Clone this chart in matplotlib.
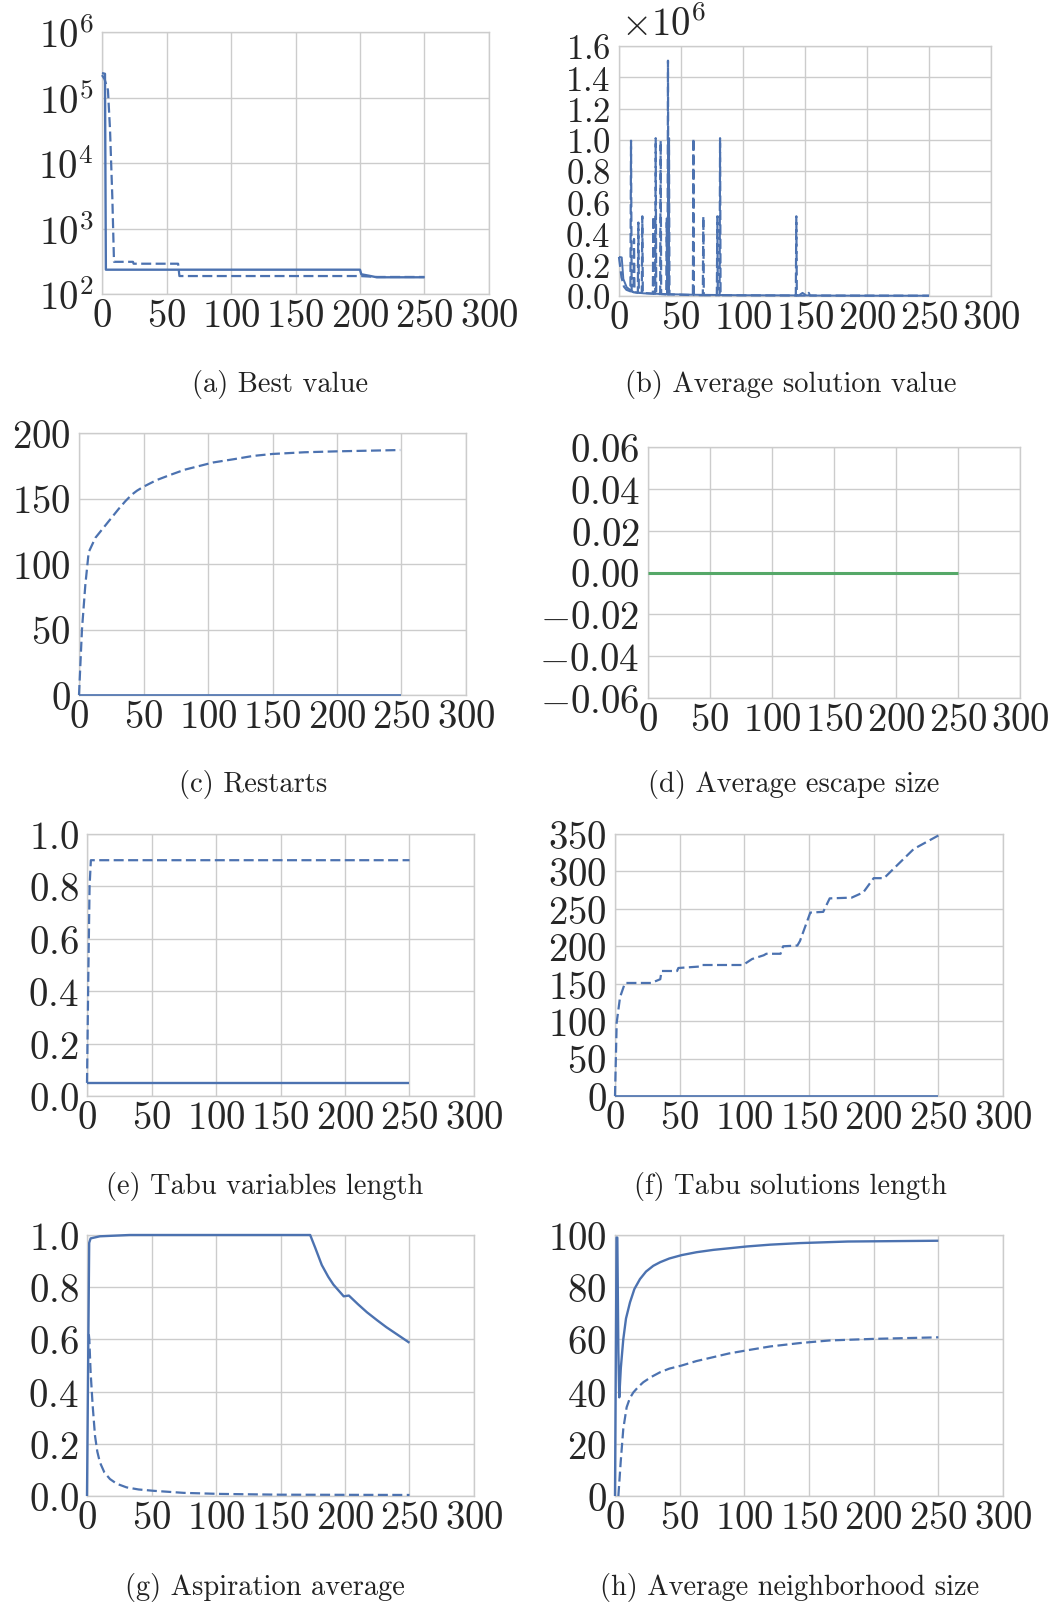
import math
import matplotlib
matplotlib.use("Agg")
import matplotlib.pyplot as plt
from matplotlib.ticker import FuncFormatter, NullLocator

plt.rcParams["font.family"] = "cmr10"
plt.rcParams["mathtext.fontset"] = "cm"
plt.rcParams["axes.formatter.use_mathtext"] = True

BLUE = "#4C72B0"
GREEN = "#55A868"
GRID = "#cccccc"

x_ticks = [0, 50, 100, 150, 200, 250, 300]

# (a) Best value (log scale)
best_solid_x = [0, 2.3, 3, 200, 201, 207, 213, 250]
best_solid_y = [236000, 230000, 235, 235, 200, 190, 180, 180]
best_dash_x = [0, 2, 4.6, 6.2, 8, 9.3, 24, 24.5, 59, 60, 200, 213, 250]
best_dash_y = [220000, 190000, 130000, 33000, 3000, 310, 310, 290, 290, 188, 188, 182, 182]

# (b) Average solution value
avg_solid_x = [0, 2.2, 3.5, 6.2, 11.6, 20, 38, 60, 100, 145, 148, 151, 160, 200, 250]
avg_solid_y = [0.25e6, 0.247e6, 0.109e6, 0.056e6, 0.024e6, 0.017e6, 0.012e6, 0.008e6,
               0.005e6, 0.004e6, 0.02e6, 0.004e6, 0.003e6, 0.002e6, 0.002e6]
avg_dash_x = [0, 2, 4, 6, 9.2, 9.7, 10.2, 11.7, 12.1, 12.5, 15.2, 15.6, 16.0, 18.4, 18.8, 19.2,
              27.3, 27.7, 28.1, 29.2, 29.6, 30.0, 33.2, 33.6, 34.0,
              38.1, 38.5, 38.9, 39.1, 39.5, 39.9, 40.0, 40.3, 40.7,
              59.6, 60, 60.4, 67.6, 68, 68.4, 78.9, 79.3, 79.7, 81.1, 81.5, 81.9,
              142.6, 143, 143.4, 152, 153, 154, 250]
avg_dash_y = [0.25e6, 0.12e6, 0.06e6, 0.04e6, 0.03e6, 0.994e6, 0.03e6, 0.025e6, 0.365e6, 0.025e6,
              0.02e6, 0.47e6, 0.02e6, 0.02e6, 0.51e6, 0.02e6,
              0.015e6, 0.51e6, 0.015e6, 0.015e6, 1.01e6, 0.015e6, 0.012e6, 0.994e6, 0.012e6,
              0.01e6, 0.5e6, 0.01e6, 0.01e6, 1.506e6, 0.01e6, 0.01e6, 1.01e6, 0.01e6,
              0.006e6, 1.01e6, 0.006e6, 0.005e6, 0.51e6, 0.005e6, 0.005e6, 0.51e6, 0.005e6,
              0.005e6, 1.01e6, 0.005e6,
              0.003e6, 0.51e6, 0.003e6, 0.003e6, 0.02e6, 0.003e6, 0.002e6]

# (c) Restarts
rest_solid_x = [0, 250]
rest_solid_y = [0, 0]
rest_dash_x = [0, 2.3, 4.9, 7.5, 12.7, 21.7, 30.7, 36, 41, 45, 50, 60, 70.7, 82, 94, 104,
               120, 135, 150, 175, 200, 249]
rest_dash_y = [0, 50, 84, 109, 120, 131, 142, 148, 153, 156, 159, 164, 168, 172, 175, 177.5,
               180, 182.5, 184, 185.3, 186, 187]

# (d) Average escape size
esc_x = [0, 250]
esc_y = [0, 0]

# (e) Tabu variables length
tvar_solid_x = [0, 250]
tvar_solid_y = [0.048, 0.048]
tvar_dash_x = [0, 1, 2, 3, 250]
tvar_dash_y = [0.05, 0.45, 0.8, 0.9, 0.9]

# (f) Tabu solutions length
tsol_solid_x = [0, 250]
tsol_solid_y = [0, 0]
tsol_dash_x = [0, 1.3, 3.9, 7.7, 28, 35, 36, 48, 49, 66, 67, 99, 106, 115, 117, 128, 130,
               141, 143, 151, 161, 166, 183, 192, 200, 208, 218, 231, 250]
tsol_dash_y = [0, 98, 132, 151, 151, 156, 167, 167, 171, 173, 175, 175, 183, 188, 190, 190,
               200, 201, 207, 245, 246, 264, 265, 272, 291, 291, 308, 330, 348]

# (g) Aspiration average
asp_solid_x = [0, 1.7, 2.8, 10, 33, 173, 177, 182, 187, 191, 199, 203, 210, 217, 225, 232, 241, 250]
asp_solid_y = [0.0, 0.97, 0.987, 0.995, 1.0, 1.0, 0.95, 0.885, 0.84, 0.81, 0.765, 0.768,
               0.735, 0.704, 0.673, 0.647, 0.617, 0.587]
asp_dash_x = [1.4, 1.8, 2.8, 4.4, 6.2, 8, 10, 13.5, 17.8, 23, 30.7, 40, 51.4, 75, 103, 150, 250]
asp_dash_y = [0.62, 0.6, 0.474, 0.346, 0.231, 0.17, 0.129, 0.09, 0.065, 0.047, 0.033, 0.025,
              0.02, 0.012, 0.008, 0.005, 0.004]

# (h) Average neighborhood size
nbh_solid_x = [0, 1.2, 1.8, 2.6, 3.3, 4.5, 6.4, 8.5, 11.6, 15, 19.3, 24, 29.6, 35, 42, 51.6,
               63, 76, 90, 101.8, 120, 143, 180, 250]
nbh_solid_y = [0, 99, 99, 55, 37.8, 49, 60, 68, 74.2, 79.3, 83.1, 86, 88.2, 89.6, 91, 92.3,
               93.4, 94.3, 95, 95.6, 96.3, 96.9, 97.5, 97.8]
nbh_dash_x = [2.6, 4.4, 6.4, 9, 11.5, 14.2, 18, 21.9, 28, 34.8, 42, 51.6, 63, 76, 88, 101.8,
              120, 143, 166, 200, 250]
nbh_dash_y = [0, 13, 25.7, 34, 37.5, 39.7, 41.8, 43.6, 45.6, 47.4, 48.8, 50, 51.7, 53.2, 54.6,
              55.8, 57.3, 58.6, 59.6, 60.2, 60.8]

W, H = 1060, 1606
fig = plt.figure(figsize=(W / 100, H / 100), dpi=100)
fig.patch.set_facecolor("white")


def make_axes(left, right, top, bottom):
    ax = fig.add_axes([left / W, 1 - bottom / H, (right - left) / W, (bottom - top) / H])
    ax.set_facecolor("white")
    for s in ax.spines.values():
        s.set_color(GRID)
        s.set_linewidth(1.0)
    ax.grid(True, color=GRID, linewidth=1.0)
    ax.set_axisbelow(True)
    ax.tick_params(length=0, labelsize=28, colors="#262626")
    ax.tick_params(axis="x", pad=3)
    ax.tick_params(axis="y", pad=6)
    ax.set_xlim(0, 300)
    ax.set_xticks(x_ticks)
    ax.xaxis.set_major_formatter(FuncFormatter(lambda v, p: f"${v:g}$"))
    return ax


def fmt(nd, scale=1.0):
    def f(v, p):
        v = v / scale
        if abs(v) < 1e-12:
            v = 0.0
        return f"${v:.{nd}f}$"
    return FuncFormatter(f)


def solid(ax, x, y, color=BLUE, lw=1.7):
    ax.plot(x, y, color=color, linewidth=lw, solid_capstyle="butt", zorder=3, clip_on=False)


def dashed(ax, x, y):
    ax.plot(x, y, color=BLUE, linewidth=1.6, linestyle=(0, (4.5, 2)), zorder=3, clip_on=False)


def caption(cx, cy, text):
    fig.text(cx / W, 1 - cy / H, text, ha="center", va="center", fontsize=20.5,
             family="cmr10", color="#222222")


# (a)
ax = make_axes(102, 489, 33, 295)
ax.set_yscale("log")
ax.set_ylim(1e2, 1e6)
ax.set_yticks([1e2, 1e3, 1e4, 1e5, 1e6])
ax.yaxis.set_minor_locator(NullLocator())
ax.yaxis.set_major_formatter(FuncFormatter(lambda v, p: f"$10^{{{int(round(math.log10(v)))}}}$"))
solid(ax, best_solid_x, best_solid_y)
dashed(ax, best_dash_x, best_dash_y)
caption(280, 385, "(a) Best value")

# (b)
ax = make_axes(619, 991, 47, 297)
ax.set_ylim(0, 1.6e6)
ax.set_yticks([i * 0.2e6 for i in range(9)])
ax.yaxis.set_major_formatter(fmt(1, 1e6))
ax.tick_params(axis="y", labelsize=25)
solid(ax, avg_solid_x, avg_solid_y, lw=1.4)
dashed(ax, avg_dash_x, avg_dash_y)
fig.text(621 / W, 1 - 6 / H, r"$\times10^{6}$", ha="left", va="top", fontsize=28, color="#262626")
caption(791, 385, "(b) Average solution value")

# (c)
ax = make_axes(79, 466, 434, 696)
ax.set_ylim(0, 200)
ax.set_yticks([0, 50, 100, 150, 200])
ax.yaxis.set_major_formatter(fmt(0))
solid(ax, rest_solid_x, rest_solid_y, lw=1.2)
dashed(ax, rest_dash_x, rest_dash_y)
caption(253, 785, "(c) Restarts")

# (d)
ax = make_axes(648, 1020, 448, 699)
ax.set_ylim(-0.06, 0.06)
ax.set_yticks([-0.06, -0.04, -0.02, 0.0, 0.02, 0.04, 0.06])
ax.yaxis.set_major_formatter(fmt(2))
solid(ax, esc_x, esc_y, color=GREEN, lw=2.2)
caption(794, 785, "(d) Average escape size")

# (e)
ax = make_axes(87, 474, 835, 1097)
ax.set_ylim(0, 1.0)
ax.set_yticks([0, 0.2, 0.4, 0.6, 0.8, 1.0])
ax.yaxis.set_major_formatter(fmt(1))
solid(ax, tvar_solid_x, tvar_solid_y)
dashed(ax, tvar_dash_x, tvar_dash_y)
caption(265, 1187, "(e) Tabu variables length")

# (f)
ax = make_axes(615, 1003, 835, 1097)
ax.set_ylim(0, 350)
ax.set_yticks(list(range(0, 351, 50)))
ax.yaxis.set_major_formatter(fmt(0))
solid(ax, tsol_solid_x, tsol_solid_y, lw=1.2)
dashed(ax, tsol_dash_x, tsol_dash_y)
caption(790, 1187, "(f) Tabu solutions length")

# (g)
ax = make_axes(87, 474, 1236, 1497)
ax.set_ylim(0, 1.0)
ax.set_yticks([0, 0.2, 0.4, 0.6, 0.8, 1.0])
ax.yaxis.set_major_formatter(fmt(1))
solid(ax, asp_solid_x, asp_solid_y)
dashed(ax, asp_dash_x, asp_dash_y)
caption(265, 1588, "(g) Aspiration average")

# (h)
ax = make_axes(615, 1003, 1236, 1497)
ax.set_ylim(0, 100)
ax.set_yticks([0, 20, 40, 60, 80, 100])
ax.yaxis.set_major_formatter(fmt(0))
solid(ax, nbh_solid_x, nbh_solid_y)
dashed(ax, nbh_dash_x, nbh_dash_y)
caption(790, 1588, "(h) Average neighborhood size")

fig.savefig("out.png", dpi=100)
